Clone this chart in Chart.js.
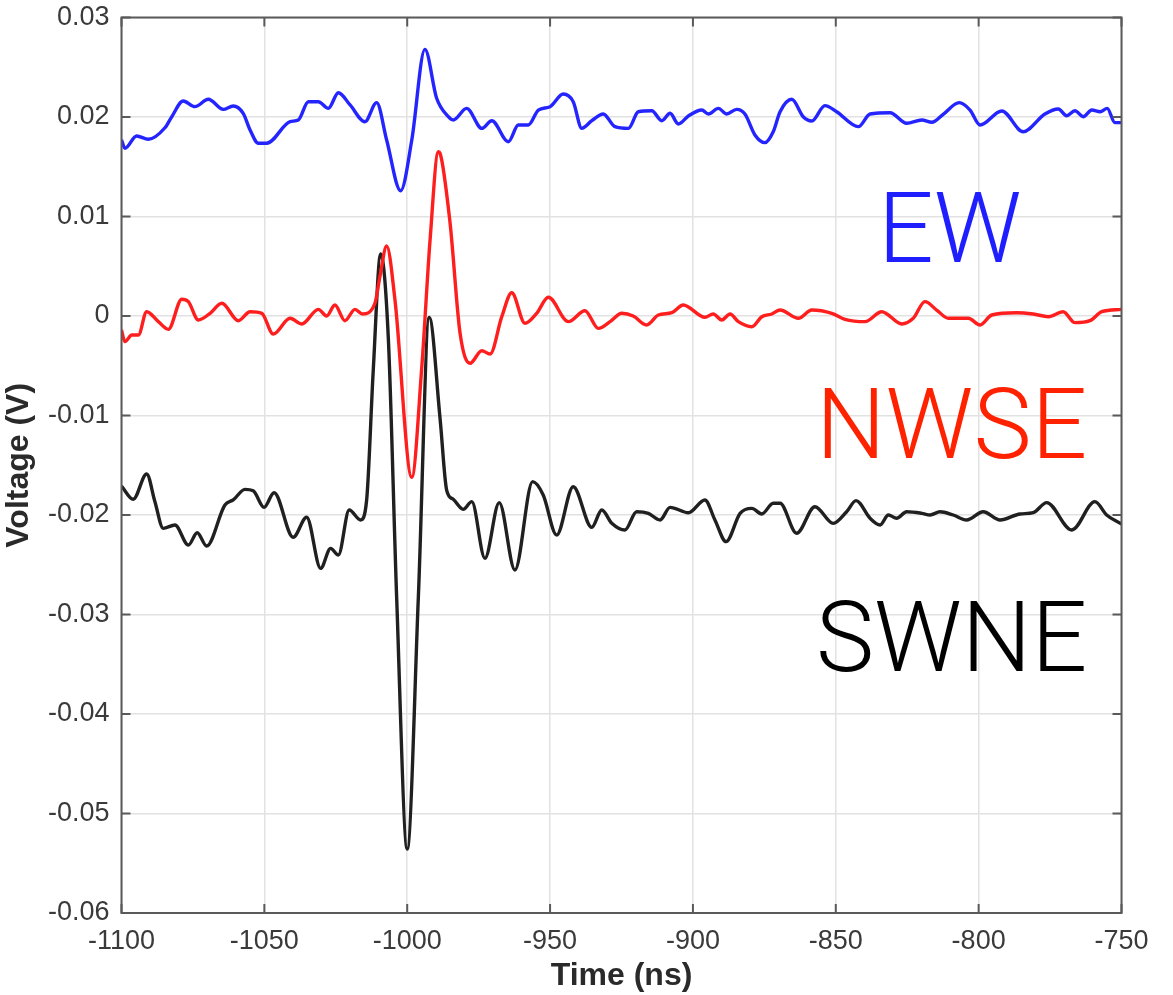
<!DOCTYPE html>
<html>
<head>
<meta charset="utf-8">
<script src="https://cdn.jsdelivr.net/npm/chart.js@4/dist/chart.umd.min.js"></script>
<style>
  html, body { margin: 0; padding: 0; background: #ffffff; }
  #wrap { width: 1173px; height: 995px; position: relative; }
</style>
</head>
<body>
<div id="wrap"><canvas id="c" width="1173" height="995"></canvas></div>
<script>
// Time axis (ns) and voltage traces of the three antenna channels
const ewTime = [-1100, -1098.8, -1094.7, -1090.6, -1084.8, -1082.4, -1078.4, -1074.3, -1069.6, -1064.4, -1060.9, -1057.4, -1055.0, -1052.1, -1049.2, -1041.0, -1038.1, -1034.6, -1031.1, -1027.6, -1024.1, -1020.0, -1014.8, -1010.7, -1007.2, -1002.3, -998.4, -993.8, -989.7, -985.6, -983.9, -979.2, -973.9, -970.4, -964.6, -961.1, -957.6, -954.1, -950.0, -945.4, -941.9, -938.9, -935.4, -931.4, -927.3, -922.6, -919.1, -914.4, -910.9, -908.0, -905.1, -901.6, -896.9, -894.6, -891.1, -888.2, -884.7, -881.8, -878.3, -874.8, -871.9, -869.5, -865.4, -861.4, -858.4, -853.8, -849.7, -842.1, -838.0, -831.0, -825.2, -819.9, -816.4, -812.4, -806.8, -803.0, -799.5, -791.9, -784.4, -776.8, -772.1, -769.2, -766.3, -763.4, -760.4, -757.5, -755.0, -752.3, -750];
const ewVolt = [0.0177, 0.01685, 0.01809, 0.01776, 0.01892, 0.02003, 0.02161, 0.02104, 0.02178, 0.02077, 0.02111, 0.02037, 0.01869, 0.01736, 0.01736, 0.01953, 0.0197, 0.02154, 0.02154, 0.02087, 0.02244, 0.02121, 0.01953, 0.02144, 0.01769, 0.01259, 0.01769, 0.0268, 0.02188, 0.02003, 0.0197, 0.02087, 0.01886, 0.01963, 0.01752, 0.0192, 0.0192, 0.0207, 0.02104, 0.02231, 0.02154, 0.01886, 0.01963, 0.0203, 0.01903, 0.01886, 0.02053, 0.02063, 0.01963, 0.02037, 0.0193, 0.0201, 0.0207, 0.0203, 0.02087, 0.0203, 0.02077, 0.0203, 0.0182, 0.01742, 0.01852, 0.02053, 0.02178, 0.02003, 0.0196, 0.02114, 0.02053, 0.01903, 0.0203, 0.02043, 0.01937, 0.0197, 0.01947, 0.02027, 0.02144, 0.0207, 0.0192, 0.0206, 0.01852, 0.0203, 0.0208, 0.02013, 0.02063, 0.02003, 0.0207, 0.02053, 0.02087, 0.01943, 0.01943];

const nwseTime = [-1100, -1098.8, -1096.4, -1094.1, -1091.2, -1087.1, -1083.6, -1078.9, -1076.6, -1073.1, -1069.0, -1064.9, -1059.1, -1055.0, -1050.9, -1046.9, -1041.0, -1036.9, -1031.1, -1028.2, -1025.3, -1021.8, -1018.3, -1015.6, -1011.3, -1009.5, -1007.2, -1004.3, -998.4, -994.9, -992.0, -989.1, -988.5, -985.0, -981.5, -978.0, -973.9, -971.0, -966.9, -963.4, -958.8, -954.7, -950.6, -943.6, -937.8, -933.1, -929.0, -924.9, -920.9, -916.2, -912.1, -907.4, -903.4, -895.8, -892.9, -889.9, -887.0, -884.1, -879.4, -875.9, -872.4, -869.5, -863.1, -858.4, -851.4, -846.8, -839.8, -833.9, -826.9, -822.9, -818.8, -814.7, -810.6, -803.6, -799.5, -795.4, -786.7, -780.9, -775.6, -770.4, -766.3, -761.0, -756.9, -750];
const nwseVolt = [-0.00141, -0.00258, -0.00191, -0.00191, 0.00043, -0.00057, -0.00134, 0.00168, 0.00144, -0.0004, 0.00027, 0.00128, -0.00047, 0.00043, 0.00027, -0.00181, -0.00023, -0.0008, 0.00067, 0, 0.00111, -0.00047, 0.00067, 0.0002, 0.00128, 0.00405, 0.00704, 0.00166, -0.01621, -0.00513, 0.00764, 0.01651, 0.01635, 0.00935, -0.00174, -0.00475, -0.00349, -0.00382, -0.00007, 0.00234, -0.00073, 0.00027, 0.00188, -0.00057, 0.00053, -0.00124, -0.00057, 0.00027, 0, -0.0009, 0.0001, 0.00033, 0.00111, -0.00013, 0.0002, -0.0004, 0.0002, -0.00057, -0.00108, -0.00007, 0.0002, 0.0006, -0.00023, 0.0006, 0.00027, -0.00033, -0.00057, 0.00043, -0.0008, -0.00023, 0.00144, 0.0006, -0.00023, -0.00023, -0.0009, 0.0001, 0.00033, 0.0002, -0.00007, 0.00043, -0.00067, -0.00047, 0.00043, 0.00067];

const swneTime = [-1100, -1095.9, -1091.2, -1088.3, -1085.4, -1081.3, -1076.6, -1073.5, -1070.2, -1063.8, -1060.9, -1056.8, -1053.9, -1050.1, -1046.6, -1039.9, -1035.2, -1030.3, -1026.8, -1024.1, -1020.3, -1016.3, -1014.2, -1011.9, -1009.3, -1006.6, -1003.7, -1000.0, -996.1, -992.3, -988.5, -986.2, -983.9, -980.4, -977.4, -972.8, -967.8, -962.3, -956.1, -952.4, -947.7, -941.9, -935.4, -931.9, -928.4, -923.8, -919.7, -915.6, -911.5, -908.0, -901.6, -895.8, -892.3, -888.4, -883.5, -879.4, -875.9, -871.9, -869.5, -863.7, -857.3, -850.9, -846.2, -842.9, -838.0, -834.5, -831.6, -828.7, -825.2, -819.9, -817.0, -813.5, -808.9, -804.2, -798.4, -792.5, -785.5, -780.9, -776.2, -767.4, -759.3, -755.2, -750];
const swneVolt = [-0.01709, -0.01842, -0.01588, -0.01866, -0.02134, -0.021, -0.02302, -0.02178, -0.02312, -0.01899, -0.01849, -0.01742, -0.01756, -0.01923, -0.01776, -0.02224, -0.02023, -0.02536, -0.02335, -0.02402, -0.0195, -0.0205, -0.01849, -0.00553, 0.00623, -0.00231, -0.02824, -0.05357, -0.02824, -0.00014, -0.01031, -0.01749, -0.01842, -0.01943, -0.01866, -0.02435, -0.01876, -0.02553, -0.01665, -0.01799, -0.02201, -0.01716, -0.02124, -0.0195, -0.02083, -0.02151, -0.01967, -0.01983, -0.0205, -0.01923, -0.01977, -0.01849, -0.0205, -0.02268, -0.01983, -0.01933, -0.0199, -0.01882, -0.01882, -0.02184, -0.01917, -0.02084, -0.01967, -0.01856, -0.02033, -0.021, -0.02, -0.02033, -0.01967, -0.01983, -0.02, -0.01967, -0.02, -0.0205, -0.01967, -0.0205, -0.0199, -0.01977, -0.01876, -0.02151, -0.01866, -0.02, -0.0209];

// Axis ranges and tick steps
const timeTicks = [-1100, -1050, -1000, -950, -900, -850, -800, -750];
const voltTicks = [0.03, 0.02, 0.01, 0, -0.01, -0.02, -0.03, -0.04, -0.05, -0.06];

// Channel names written inside the plot, with their colours
const channelNames = ['EW', 'NWSE', 'SWNE'];
const channelColors = ['#1e1eff', '#ff2200', '#000000'];
const lineColors = ['#2424ff', '#ff1e1e', '#202020'];

const toPoints = (xs, ys) => xs.map((x, i) => ({ x: x, y: ys[i] }));

const tickFont = { family: '"Liberation Sans", Arial, sans-serif', size: 27 };
const titleFont = { family: '"Liberation Sans", Arial, sans-serif', size: 32, weight: 'bold' };

// Box frame with inward ticks on all four sides, plus the channel labels
const framePlugin = {
  id: 'frameAndNames',
  afterDraw(chart) {
    const ctx = chart.ctx;
    const a = chart.chartArea;
    const xs = chart.scales.x, ys = chart.scales.y;
    ctx.save();
    ctx.strokeStyle = '#5a5a5a';
    ctx.lineWidth = 2;
    ctx.strokeRect(a.left, a.top, a.right - a.left, a.bottom - a.top);
    const tl = 9;
    ctx.beginPath();
    timeTicks.forEach(t => {
      const px = xs.getPixelForValue(t);
      ctx.moveTo(px, a.bottom); ctx.lineTo(px, a.bottom - tl);
      ctx.moveTo(px, a.top); ctx.lineTo(px, a.top + tl);
    });
    voltTicks.forEach(v => {
      const py = ys.getPixelForValue(v);
      ctx.moveTo(a.left, py); ctx.lineTo(a.left + tl, py);
      ctx.moveTo(a.right, py); ctx.lineTo(a.right - tl, py);
    });
    ctx.stroke();

    ctx.font = '300 98px Roboto, "Open Sans", "Liberation Sans", sans-serif';
    ctx.textBaseline = 'alphabetic';
    ctx.textAlign = 'right';
    const spots = [[-785, 0.0054], [-762, -0.0143], [-762, -0.0357]];
    channelNames.forEach((name, i) => {
      ctx.fillStyle = channelColors[i];
      ctx.fillText(name, xs.getPixelForValue(spots[i][0]), ys.getPixelForValue(spots[i][1]));
    });
    ctx.restore();
  }
};

new Chart(document.getElementById('c'), {
  type: 'line',
  data: {
    datasets: [
      { label: 'EW', data: toPoints(ewTime, ewVolt) },
      { label: 'NWSE', data: toPoints(nwseTime, nwseVolt) },
      { label: 'SWNE', data: toPoints(swneTime, swneVolt) }
    ].map((d, i) => Object.assign(d, {
      borderColor: lineColors[i],
      borderWidth: 3.4,
      pointRadius: 0,
      fill: false,
      cubicInterpolationMode: 'monotone'
    }))
  },
  options: {
    responsive: false,
    animation: false,
    layout: { padding: { left: 0, right: 51.5, top: 17.5, bottom: 0 } },
    plugins: { legend: { display: false }, tooltip: { enabled: false }, title: { display: false } },
    scales: {
      x: {
        type: 'linear',
        min: -1100, max: -750,
        afterBuildTicks: s => { s.ticks = timeTicks.map(v => ({ value: v })); },
        afterFit: s => { s.height = 82; s.paddingLeft = 0; s.paddingRight = 0; },
        grid: { color: '#e2e2e2', lineWidth: 1.5, drawTicks: false },
        border: { display: false },
        ticks: { font: tickFont, color: '#3a3a3a', padding: 12, maxRotation: 0, callback: v => String(v) },
        title: { display: true, text: 'Time (ns)', font: titleFont, color: '#2a2a2a', padding: { top: 0, bottom: 0 } }
      },
      y: {
        type: 'linear',
        min: -0.06, max: 0.03,
        afterBuildTicks: s => { s.ticks = voltTicks.map(v => ({ value: v })); },
        afterFit: s => { s.width = 121.5; s.paddingTop = 0; s.paddingBottom = 0; },
        grid: { color: '#e2e2e2', lineWidth: 1.5, drawTicks: false },
        border: { display: false },
        ticks: { font: tickFont, color: '#3a3a3a', padding: 12, callback: v => String(parseFloat(Number(v).toFixed(2))) },
        title: { display: true, text: 'Voltage (V)', font: titleFont, color: '#2a2a2a', padding: { top: 0, bottom: 0 } }
      }
    }
  },
  plugins: [framePlugin]
});
</script>
</body>
</html>
